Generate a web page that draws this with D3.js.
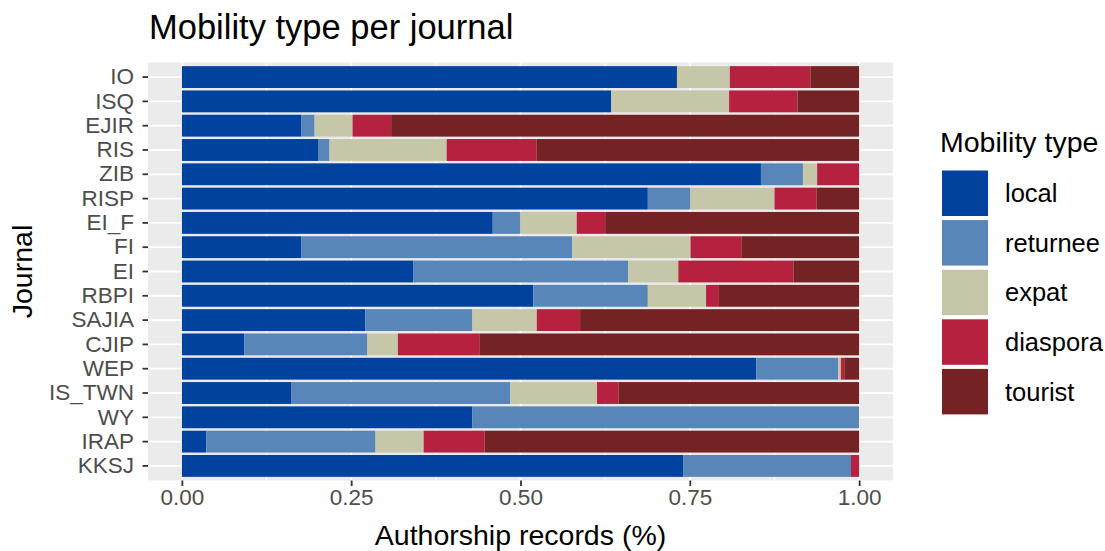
<!DOCTYPE html>
<html><head><meta charset="utf-8">
<script src="https://cdn.jsdelivr.net/npm/d3@7"></script>
<style>body{margin:0;background:#fff;} text{font-family:"Liberation Sans",Arial,sans-serif;}</style>
</head><body>
<svg id="c" width="1105" height="551"></svg>
<script>
const journals = ["IO","ISQ","EJIR","RIS","ZIB","RISP","EI_F","FI","EI","RBPI","SAJIA","CJIP","WEP","IS_TWN","WY","IRAP","KKSJ"];
const types = ["local","returnee","expat","diaspora","tourist"];
const colors = ["#00429d","#5886b8","#c6c6a9","#b5213f","#742224"];
const local    = [.731,.634,.176,.201,.855,.688,.459,.176,.342,.519,.271,.092,.848,.162,.429,.036,.740];
const returnee = [0,0,.020,.017,.062,.063,.041,.400,.317,.169,.158,.182,.121,.323,.571,.250,.248];
const expat    = [.078,.174,.056,.173,.021,.124,.083,.175,.074,.086,.095,.045,.004,.128,0,.071,0];
const diaspora = [.119,.101,.057,.133,.062,.062,.042,.075,.170,.019,.064,.121,.005,.032,0,.090,.012];
const tourist  = [.072,.091,.691,.476,0,.063,.375,.174,.097,.207,.412,.560,.022,.355,0,.553,0];
const xTicks = [0,0.25,0.5,0.75,1];
const xTickLabels = ["0.00","0.25","0.50","0.75","1.00"];

const table = journals.map((j,i)=>({journal:j, local:local[i], returnee:returnee[i], expat:expat[i], diaspora:diaspora[i], tourist:tourist[i]}));
const svg = d3.select("#c");
const P = {l:148, r:893, t:62.5, b:480.5};
const x = d3.scaleLinear().domain([-0.05,1.05]).range([P.l,P.r]);
const y = d3.scaleBand().domain(journals).range([P.t,P.b]).paddingInner(0).paddingOuter(0.1).align(0.5);
const color = d3.scaleOrdinal().domain(types).range(colors);
const FONT = "Liberation Sans, Arial, sans-serif";

svg.append("rect").attr("x",P.l).attr("y",P.t).attr("width",P.r-P.l).attr("height",P.b-P.t).attr("fill","#ebebeb");
[0.125,0.375,0.625,0.875].forEach(v=>{
  svg.append("line").attr("x1",x(v)).attr("x2",x(v)).attr("y1",P.t).attr("y2",P.b).attr("stroke","#fff").attr("stroke-width",0.9);
});
xTicks.forEach(v=>{
  svg.append("line").attr("x1",x(v)).attr("x2",x(v)).attr("y1",P.t).attr("y2",P.b).attr("stroke","#fff").attr("stroke-width",1.8);
});
journals.forEach(j=>{
  const cy = y(j)+y.bandwidth()/2;
  svg.append("line").attr("x1",P.l).attr("x2",P.r).attr("y1",cy).attr("y2",cy).attr("stroke","#fff").attr("stroke-width",1.8);
});

const stack = d3.stack().keys(types)(table);
const bh = y.bandwidth()*0.9;
svg.append("g").selectAll("g").data(stack).join("g").attr("fill",d=>color(d.key))
  .selectAll("rect").data(d=>d).join("rect")
  .attr("x",d=>x(d[0])).attr("width",d=>Math.max(0,x(d[1])-x(d[0])))
  .attr("y",d=>y(d.data.journal)+(y.bandwidth()-bh)/2).attr("height",bh);

const yAxis = d3.axisLeft(y).tickSize(5.5).tickPadding(8.5);
const gy = svg.append("g").attr("transform",`translate(${P.l},0)`).call(yAxis);
gy.select(".domain").remove();
gy.selectAll(".tick line").attr("stroke","#333").attr("stroke-width",1.8);
gy.selectAll(".tick text").attr("fill","#4d4d4d").style("font-size","22.5px").style("font-family",FONT);

const xAxis = d3.axisBottom(x).tickValues(xTicks).tickFormat((d,i)=>xTickLabels[i]).tickSize(5.5).tickPadding(3);
const gx = svg.append("g").attr("transform",`translate(0,${P.b})`).call(xAxis);
gx.select(".domain").remove();
gx.selectAll(".tick line").attr("stroke","#333").attr("stroke-width",1.8);
gx.selectAll(".tick text").attr("fill","#4d4d4d").style("font-size","22.5px").style("font-family",FONT);

svg.append("text").attr("x",(P.l+P.r)/2).attr("y",544.5).attr("text-anchor","middle").style("font-size","28.5px").attr("fill","#000").text("Authorship records (%)");
svg.append("text").attr("transform",`translate(32,${(P.t+P.b)/2}) rotate(-90)`).attr("text-anchor","middle").style("font-size","28.5px").attr("fill","#000").text("Journal");
svg.append("text").attr("x",P.l+1).attr("y",39).style("font-size","34.5px").attr("fill","#000").text("Mobility type per journal");

const lg = svg.append("g");
lg.append("text").attr("x",940).attr("y",152).style("font-size","28.5px").attr("fill","#000").text("Mobility type");
types.forEach((t,i)=>{
  const ty = 170.5 + i*49.6;
  lg.append("rect").attr("x",942).attr("y",ty).attr("width",46).attr("height",45.5).attr("fill",color(t));
  lg.append("text").attr("x",1005).attr("y",ty+22.75).attr("dy","0.35em").style("font-size","25.5px").attr("fill","#000").text(t);
});
</script>
</body></html>
